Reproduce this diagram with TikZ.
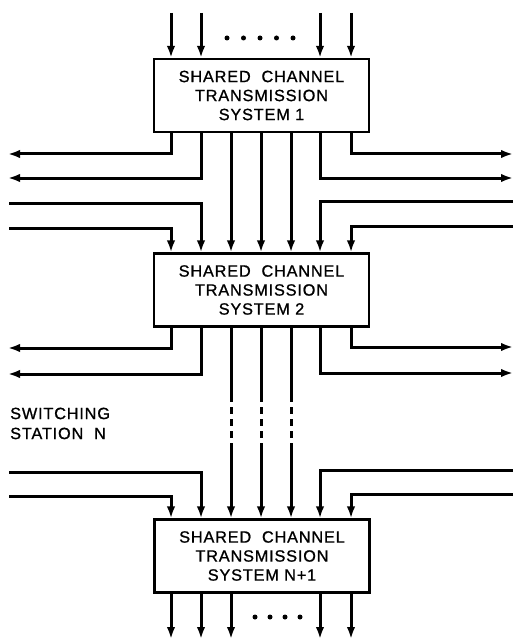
\documentclass[tikz,border=0pt]{standalone}
\usepackage{fontspec}
\setmainfont{Liberation Sans}[LetterSpace=5,FakeBold=1]
\usetikzlibrary{arrows.meta}
\begin{document}
\begin{tikzpicture}[x=1pt,y=-1pt,
  wire/.style={line width=3pt,line join=miter},
  arr/.style={wire,-{Latex[length=12pt,width=8.5pt]}},
  sysbox/.style={draw,line width=2.2pt,minimum width=215pt,minimum height=73pt,inner sep=0pt,
    align=center,font=\fontsize{16.3}{19}\selectfont},
  lbl/.style={inner sep=0pt,align=left,font=\fontsize{16.3}{20}\selectfont},
  dot/.style={circle,fill,inner sep=0pt,minimum size=5pt}]
\useasboundingbox (0,0) rectangle (513,639);
% columns
\coordinate (c1) at (171,0);
\coordinate (c2) at (201,0);
\coordinate (c3) at (231,0);
\coordinate (c4) at (261,0);
\coordinate (c5) at (291,0);
\coordinate (c6) at (320,0);
\coordinate (c7) at (351,0);
% boxes
\node[sysbox] (b1) at (261.5,95.5) {SHARED\,\, CHANNEL\\TRANSMISSION\\SYSTEM 1};
\node[sysbox] (b2) at (261.5,290) {SHARED\,\, CHANNEL\\TRANSMISSION\\SYSTEM 2};
\node[sysbox] (b3) at (262,556) {SHARED\,\, CHANNEL\\TRANSMISSION\\SYSTEM N+1};
% top inputs
\foreach \c in {c1,c2,c6,c7}{
  \coordinate (t\c) at (\c |- 0,13);
  \draw[arr] (t\c) -- (b1.north -| \c);
}
\foreach \x [count=\i] in {227,243.5,260,276.5,293}
  \node[dot] (td\i) at (\x,38) {};
% box1 outputs
\coordinate (o1l1) at (8,154);  \coordinate (o1l2) at (8,178);
\coordinate (o1r1) at (513,154); \coordinate (o1r2) at (513,178);
\draw[arr] (b1.south -| c1) |- (o1l1);
\draw[arr] (b1.south -| c2) |- (o1l2);
\draw[arr] (b1.south -| c7) |- (o1r1);
\draw[arr] (b1.south -| c6) |- (o1r2);
% through lines 1 -> 2
\foreach \c in {c3,c4,c5}
  \draw[arr] (b1.south -| \c) -- (b2.north -| \c);
% box2 inputs
\coordinate (i2l1) at (9,203);   \coordinate (i2l2) at (9,228);
\coordinate (i2r1) at (513,201); \coordinate (i2r2) at (513,226);
\draw[arr] (i2l1) -| (b2.north -| c2);
\draw[arr] (i2l2) -| (b2.north -| c1);
\draw[arr] (i2r1) -| (b2.north -| c6);
\draw[arr] (i2r2) -| (b2.north -| c7);
% box2 outputs
\coordinate (o2l1) at (8,348);  \coordinate (o2l2) at (8,374);
\coordinate (o2r1) at (513,347); \coordinate (o2r2) at (513,373);
\draw[arr] (b2.south -| c1) |- (o2l1);
\draw[arr] (b2.south -| c2) |- (o2l2);
\draw[arr] (b2.south -| c7) |- (o2r1);
\draw[arr] (b2.south -| c6) |- (o2r2);
% dashed through lines 2 -> N+1
\foreach \c in {c3,c4,c5}{
  \coordinate (da\c) at (\c |- 0,395);
  \coordinate (db\c) at (\c |- 0,447);
  \draw[wire] (b2.south -| \c) -- (da\c);
  \draw[wire,dash pattern=on 7pt off 5pt] (da\c) -- (db\c);
  \draw[arr] (db\c) -- (b3.north -| \c);
}
\node[lbl,anchor=north west] (sw) at (10,407.5) {SWITCHING\\STATION\,\, N};
% box3 inputs
\coordinate (i3l1) at (9,472);   \coordinate (i3l2) at (9,496);
\coordinate (i3r1) at (513,470); \coordinate (i3r2) at (513,494);
\draw[arr] (i3l1) -| (b3.north -| c2);
\draw[arr] (i3l2) -| (b3.north -| c1);
\draw[arr] (i3r1) -| (b3.north -| c6);
\draw[arr] (i3r2) -| (b3.north -| c7);
% bottom outputs
\foreach \c in {c1,c2,c3,c6,c7}{
  \coordinate (e\c) at (\c |- 0,639);
  \draw[arr] (b3.south -| \c) -- (e\c);
}
\foreach \x [count=\i] in {255,270,285,300}
  \node[dot] (bd\i) at (\x,617) {};
\end{tikzpicture}
\end{document}
